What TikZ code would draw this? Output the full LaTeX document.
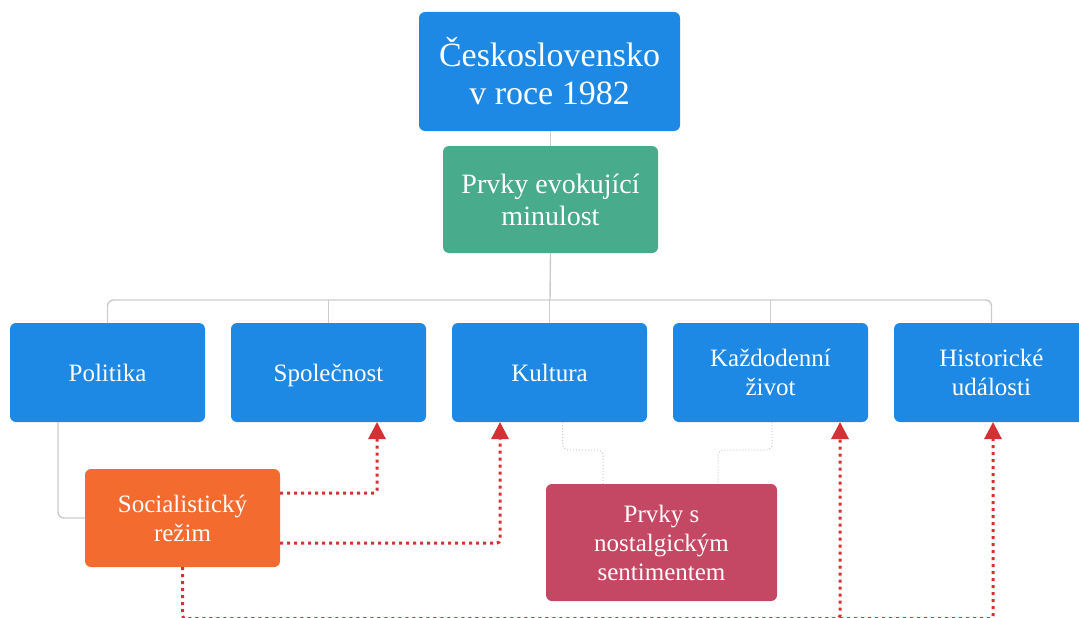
\documentclass[tikz,border=0pt]{standalone}
\usepackage{fontspec}
\setmainfont{Liberation Serif}
\usetikzlibrary{arrows.meta,positioning}

\definecolor{boxblue}{HTML}{1E88E5}
\definecolor{boxgreen}{HTML}{47AB8C}
\definecolor{boxorange}{HTML}{F46B30}
\definecolor{boxrose}{HTML}{C44764}
\definecolor{hintred}{HTML}{D53034}
\definecolor{treegray}{HTML}{CCCCCC}

\begin{document}
\begin{tikzpicture}[x=1pt,y=-1pt,
    box/.style={rounded corners=6pt,text=white,align=center,inner sep=0pt,
                outer sep=0pt,minimum width=195pt,minimum height=99pt,
                font=\fontsize{25}{29}\selectfont},
    topic/.style={box,fill=boxblue},
    oneline/.style={topic,text height=18pt,text depth=0pt},
    tree/.style={draw=treegray,line width=1.4pt,rounded corners=6pt},
    link/.style={draw=treegray,line width=1pt,dotted,rounded corners=6pt},
    hint/.style={draw=hintred,line width=3pt,dash pattern=on 3pt off 4pt,
                 rounded corners=3pt,-{Triangle[width=17pt,length=17pt]}}]

  \useasboundingbox (0,0) rectangle (1079,618);

  \node[box,fill=boxblue,minimum width=261pt,minimum height=119pt,
        font=\fontsize{34}{38}\selectfont] (cs) at (549.5,71.5)
        {Československo\\v roce 1982};
  \node[box,fill=boxgreen,minimum width=215pt,minimum height=107pt,
        font=\fontsize{28}{32}\selectfont] (evo) at (550.5,199.5)
        {Prvky evokující\\minulost};

  \node[oneline] (pol) at (107.5,372.5) {Politika};
  \node[oneline] (spol) [right=26pt of pol]  {Společnost};
  \node[oneline] (kul)  [right=26pt of spol] {Kultura};
  \node[topic]   (kazd) [right=26pt of kul]  {Každodenní\\život};
  \node[topic]   (hist) [right=26pt of kazd] {Historické\\události};

  \node[box,fill=boxorange,minimum height=98pt] (soc) at (182.5,518)
        {Socialistický\\režim};
  \node[box,fill=boxrose,minimum width=231pt,minimum height=117pt] (nost)
        at (661.5,542.5) {Prvky s\\nostalgickým\\sentimentem};

  \coordinate (bus) at (550,300);
  \coordinate (floor) at (0,618.5);

  \path[tree] (evo.north |- cs.south) -- (evo.north);
  \path[tree] (evo.south) -- (bus);
  \path[tree] (pol.north) |- (bus) -| (hist.north);
  \path[tree] (spol.north) -- (spol.north |- bus);
  \path[tree] (kazd.north) -- (kazd.north |- bus);
  \path[tree] (kul.north) -- (kul.north |- bus);
  \path[tree] ([xshift=-49.5pt]pol.south) |- (soc.west);

  \path[link] ([xshift=13pt]kul.south) -- ++(0,28) -| ([xshift=-58.5pt]nost.north);
  \path[link] ([xshift=1.5pt]kazd.south) -- ++(0,28) -| ([xshift=56.5pt]nost.north);

  \coordinate (k) at ([xshift=69.5pt]kazd.south |- floor);
  \path[hint] ([yshift=25pt]soc.east) -| ([xshift=48.5pt]spol.south);
  \path[hint] ([yshift=-25pt]soc.east) -| ([xshift=-49.5pt]kul.south);
  \path[hint] (soc.south) |- (k) -- ([xshift=69.5pt]kazd.south);
  \path[hint] (k) -| ([xshift=1.5pt]hist.south);

\end{tikzpicture}
\end{document}
